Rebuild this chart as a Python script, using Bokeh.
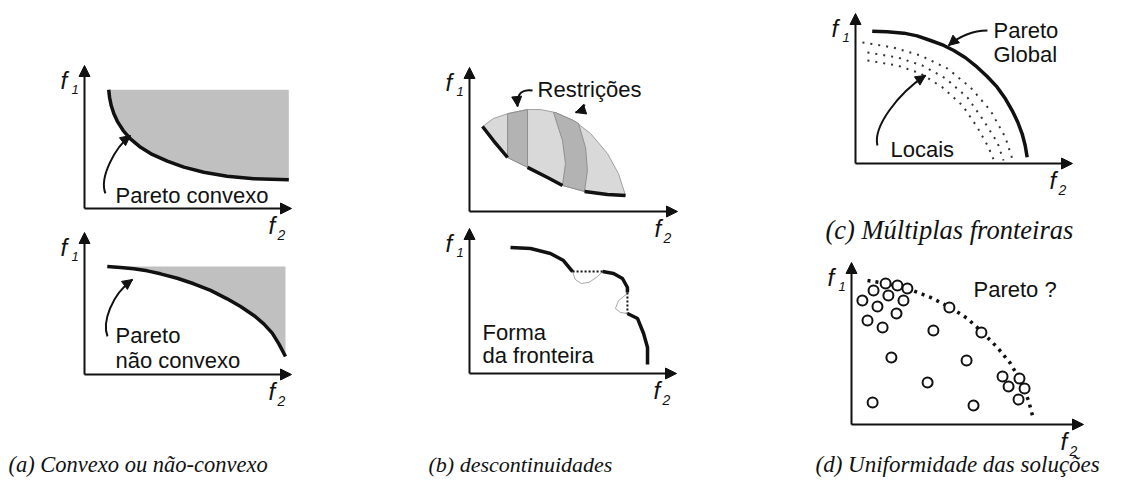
from bokeh.plotting import figure
from bokeh.models import Range1d, Arrow, NormalHead
from bokeh.core.properties import value
from bokeh.embed import file_html
from bokeh.resources import INLINE

W, H = 1107, 477
M = 0  # observed page offset of the plot frame
BL = 0.36  # observed downward shift of the alphabetic baseline, in em

# ---------------- data (panel units: 0..1 along each pair of axes) ----------------
# (a) top: convex Pareto front
A1_FRONT_U = [0.117, 0.121, 0.129, 0.142, 0.161, 0.187, 0.222, 0.271, 0.327, 0.400,
              0.480, 0.576, 0.689, 0.818, 0.987]
A1_FRONT_V = [0.830, 0.778, 0.720, 0.662, 0.604, 0.545, 0.487, 0.428, 0.378, 0.331,
              0.289, 0.254, 0.226, 0.208, 0.201]
# (a) bottom: non-convex Pareto front
A2_FRONT_U = [0.110, 0.174, 0.238, 0.303, 0.367, 0.448, 0.528, 0.609, 0.689, 0.754,
              0.818, 0.866, 0.907, 0.939, 0.971]
A2_FRONT_V = [0.761, 0.754, 0.744, 0.730, 0.709, 0.678, 0.639, 0.592, 0.533, 0.479,
              0.416, 0.357, 0.291, 0.216, 0.127]
# (b) top: feasible region with constraints
B1_TOP_U = [0.0625, 0.115, 0.1875, 0.279, 0.341, 0.413, 0.500, 0.582, 0.663, 0.716, 0.750]
B1_TOP_V = [0.590, 0.646, 0.681, 0.708, 0.708, 0.6875, 0.632, 0.542, 0.403, 0.264, 0.111]
B1_BOT_U = [0.0625, 0.115, 0.183, 0.279, 0.375, 0.447, 0.553, 0.663, 0.750]
B1_BOT_V = [0.590, 0.493, 0.375, 0.306, 0.236, 0.181, 0.139, 0.118, 0.111]
B1_BAND1_U = [0.183, 0.279, 0.279, 0.183]
B1_BAND1_V = [0.375, 0.306, 0.708, 0.679]
B1_BAND2_U = [0.404, 0.447, 0.4615, 0.447, 0.553, 0.567, 0.558, 0.524, 0.500, 0.413]
B1_BAND2_V = [0.6875, 0.493, 0.333, 0.181, 0.139, 0.285, 0.444, 0.611, 0.632, 0.6875]
# (b) bottom: discontinuous front
B2_S1_U = [0.198, 0.295, 0.391, 0.454, 0.498]
B2_S1_V = [0.869, 0.862, 0.828, 0.779, 0.703]
B2_S2_U = [0.643, 0.696, 0.739, 0.763, 0.763]
B2_S2_V = [0.703, 0.690, 0.655, 0.593, 0.559]
B2_S3_U = [0.763, 0.812, 0.841, 0.860, 0.860]
B2_S3_V = [0.414, 0.379, 0.276, 0.179, 0.062]
B2_LOOP1_U = [0.498, 0.510, 0.540, 0.580, 0.620, 0.643]
B2_LOOP1_V = [0.703, 0.650, 0.620, 0.630, 0.670, 0.703]
B2_LOOP2_U = [0.763, 0.720, 0.705, 0.729, 0.763]
B2_LOOP2_V = [0.552, 0.503, 0.448, 0.421, 0.414]
# (c) multiple fronts
C_GLOBAL_U = [0.077, 0.146, 0.223, 0.284, 0.346, 0.407, 0.453, 0.507, 0.561, 0.607,
              0.653, 0.691, 0.722, 0.748, 0.768, 0.782, 0.791]
C_GLOBAL_V = [0.882, 0.878, 0.869, 0.851, 0.820, 0.787, 0.753, 0.705, 0.642, 0.580,
              0.509, 0.431, 0.353, 0.275, 0.198, 0.120, 0.042]
C_LOCAL1_U = [0.032, 0.175, 0.300, 0.424, 0.530, 0.622, 0.691, 0.728]
C_LOCAL1_V = [0.807, 0.773, 0.720, 0.633, 0.507, 0.353, 0.173, 0.007]
C_LOCAL2_U = [0.055, 0.194, 0.309, 0.415, 0.516, 0.590, 0.654, 0.682]
C_LOCAL2_V = [0.740, 0.707, 0.653, 0.567, 0.440, 0.287, 0.140, 0.020]
C_LOCAL3_U = [0.055, 0.194, 0.300, 0.401, 0.493, 0.562, 0.613, 0.636]
C_LOCAL3_V = [0.687, 0.653, 0.600, 0.507, 0.387, 0.240, 0.107, 0.027]
# (d) solutions and estimated front
D_SOL_U = [0.147, 0.198, 0.241, 0.095, 0.159, 0.224, 0.047, 0.112, 0.194, 0.069, 0.134,
           0.422, 0.353, 0.560, 0.172, 0.496, 0.328, 0.651, 0.724, 0.677, 0.746, 0.720,
           0.091, 0.526]
D_SOL_V = [0.870, 0.858, 0.840, 0.827, 0.796, 0.765, 0.765, 0.728, 0.685, 0.642, 0.599,
           0.722, 0.580, 0.568, 0.414, 0.395, 0.259, 0.296, 0.284, 0.235, 0.222, 0.154,
           0.136, 0.117]
D_FRONT_U = [0.069, 0.155, 0.254, 0.341, 0.427, 0.500, 0.565, 0.629, 0.685, 0.728, 0.763, 0.780]
D_FRONT_V = [0.889, 0.870, 0.833, 0.784, 0.722, 0.654, 0.568, 0.475, 0.377, 0.272, 0.148, 0.056]

CAPTIONS = ["(a) Convexo ou não-convexo", "(b) descontinuidades",
            "(c) Múltiplas fronteiras", "(d) Uniformidade das soluções"]

# ---------------- figure ----------------
p = figure(width=W, height=H, output_backend="svg", toolbar_location=None,
           x_range=Range1d(M, M + W), y_range=Range1d(M + H, M),
           min_border=0, x_axis_location=None, y_axis_location=None,
           outline_line_color=None)
for g in p.grid:
    g.visible = False
p.background_fill_color = "white"
p.border_fill_color = "white"

INK = "#111111"
SANS = value("Liberation Sans")
SERIF = value("Liberation Serif")
xr, yr = {}, {}


def add_panel(name, ox, oy, xt, yt):
    """Map panel units (0..1) onto the pixel box given by origin and axis tips."""
    kx = xt - ox
    sx = -(ox - M) / kx
    xr[name] = Range1d(sx, sx + W / kx)
    ky = oy - yt
    sy = -(H - (oy - M)) / ky
    yr[name] = Range1d(sy, sy + H / ky)


add_panel("a1", 84, 208, 291, 65)
add_panel("a2", 84, 374, 291, 232)
add_panel("b1", 469, 211, 677, 67)
add_panel("b2", 469, 373, 676, 228)
add_panel("c", 855, 163, 1072, 13)
add_panel("d", 851, 424, 1083, 262)
p.extra_x_ranges = xr
p.extra_y_ranges = yr


def kw(n):
    return dict(x_range_name=n, y_range_name=n)


def fix(dy, fs):
    return dy - BL * fs


def axes(n):
    for xe, ye in ((1, 0), (0, 1)):
        p.add_layout(Arrow(x_start=0, y_start=0, x_end=xe, y_end=ye, line_width=2,
                           line_color=INK,
                           end=NormalHead(size=11, fill_color=INK, line_color=INK, line_width=1),
                           **kw(n)))
    p.text(x=[0, 0], y=[1, 1], text=["f", "1"], x_offset=[-24, -13],
           y_offset=[fix(24, 24), fix(29, 13)],
           text_font=SANS, text_font_style="italic", text_font_size=["24px", "13px"],
           text_color=INK, text_baseline="alphabetic", text_align="left", **kw(n))
    p.text(x=[1, 1], y=[0, 0], text=["f", "2"], x_offset=[-23, -14],
           y_offset=[fix(26, 24), fix(32, 14)],
           text_font=SANS, text_font_style="italic", text_font_size=["24px", "14px"],
           text_color=INK, text_baseline="alphabetic", text_align="left", **kw(n))


def curved_arrow(n, x0, y0, cx0, cy0, cx1, cy1, x1, y1):
    p.bezier(x0=[x0], y0=[y0], x1=[x1], y1=[y1], cx0=[cx0], cy0=[cy0], cx1=[cx1], cy1=[cy1],
             line_width=2, line_color=INK, **kw(n))
    e = 0.02
    p.add_layout(Arrow(x_start=x1 - e * (x1 - cx1), y_start=y1 - e * (y1 - cy1),
                       x_end=x1, y_end=y1, line_alpha=0,
                       end=NormalHead(size=10, fill_color=INK, line_color=INK, line_width=1),
                       **kw(n)))


def label(n, xs, ys, texts):
    p.text(x=xs, y=ys, text=texts, text_font=SANS, text_font_size="22px", text_color=INK,
           y_offset=fix(0, 22),
           text_baseline="alphabetic", text_align="left", **kw(n))


# ---- (a) top
p.patch(A1_FRONT_U + [A1_FRONT_U[-1]], A1_FRONT_V + [A1_FRONT_V[0]],
        fill_color="#c0c0c0", line_color=None, **kw("a1"))
p.line(A1_FRONT_U, A1_FRONT_V, line_width=3.5, line_color=INK, line_join="round", **kw("a1"))
axes("a1")
curved_arrow("a1", 0.101, 0.105, 0.07, 0.22, 0.15, 0.43, 0.222, 0.51)
label("a1", [0.150], [0.035], ["Pareto convexo"])

# ---- (a) bottom
p.patch(A2_FRONT_U + [A2_FRONT_U[-1]], A2_FRONT_V + [A2_FRONT_V[0]],
        fill_color="#c0c0c0", line_color=None, **kw("a2"))
p.line(A2_FRONT_U, A2_FRONT_V, line_width=3.5, line_color=INK, line_join="round", **kw("a2"))
axes("a2")
curved_arrow("a2", 0.111, 0.268, 0.085, 0.37, 0.13, 0.56, 0.232, 0.669)
label("a2", [0.150, 0.150], [0.218, 0.042], ["Pareto", "não convexo"])

# ---- (b) top
p.patch(B1_TOP_U + B1_BOT_U[::-1], B1_TOP_V + B1_BOT_V[::-1],
        fill_color="#d9d9d9", line_color="#a0a0a0", line_width=1, **kw("b1"))
p.patch(B1_BAND1_U, B1_BAND1_V, fill_color="#b3b3b3", line_color="#8f8f8f", line_width=1, **kw("b1"))
p.patch(B1_BAND2_U, B1_BAND2_V, fill_color="#b3b3b3", line_color="#8f8f8f", line_width=1, **kw("b1"))
for i0, i1 in ((0, 3), (3, 6), (6, 9)):
    p.line(B1_BOT_U[i0:i1], B1_BOT_V[i0:i1], line_width=3.5, line_color=INK,
           line_join="round", **kw("b1"))
axes("b1")
curved_arrow("b1", 0.303, 0.840, 0.26, 0.85, 0.225, 0.83, 0.231, 0.729)
curved_arrow("b1", 0.553, 0.743, 0.548, 0.72, 0.535, 0.70, 0.510, 0.6875)
label("b1", [0.327], [0.792], ["Restrições"])

# ---- (b) bottom
p.line(B2_LOOP1_U, B2_LOOP1_V, line_width=1, line_color="#a8a8a8", **kw("b2"))
p.line(B2_LOOP2_U, B2_LOOP2_V, line_width=1, line_color="#a8a8a8", **kw("b2"))
p.line([B2_S1_U[-1], B2_S2_U[0]], [B2_S1_V[-1], B2_S2_V[0]], line_width=2,
       line_dash="2 2", line_color=INK, **kw("b2"))
p.line([B2_S2_U[-1], B2_S3_U[0]], [B2_S2_V[-1], B2_S3_V[0]], line_width=2,
       line_dash="2 2", line_color=INK, **kw("b2"))
for su, sv in ((B2_S1_U, B2_S1_V), (B2_S2_U, B2_S2_V), (B2_S3_U, B2_S3_V)):
    p.line(su, sv, line_width=3.5, line_color=INK, line_join="round", **kw("b2"))
axes("b2")
label("b2", [0.063, 0.063], [0.228, 0.069], ["Forma", "da fronteira"])

# ---- (c)
for lu, lv in ((C_LOCAL1_U, C_LOCAL1_V), (C_LOCAL2_U, C_LOCAL2_V), (C_LOCAL3_U, C_LOCAL3_V)):
    p.line(lu, lv, line_width=2, line_dash="2 6", line_color="#333333", **kw("c"))
p.line(C_GLOBAL_U, C_GLOBAL_V, line_width=3.5, line_color=INK, line_join="round", **kw("c"))
axes("c")
curved_arrow("c", 0.608, 0.887, 0.54, 0.885, 0.48, 0.85, 0.429, 0.787)
curved_arrow("c", 0.101, 0.12, 0.08, 0.25, 0.20, 0.47, 0.323, 0.587)
label("c", [0.636, 0.636], [0.833, 0.673], ["Pareto", "Global"])
label("c", [0.161], [0.040], ["Locais"])

# ---- (d)
p.line(D_FRONT_U, D_FRONT_V, line_width=3.5, line_dash="3 5", line_color=INK, **kw("d"))
p.scatter(D_SOL_U, D_SOL_V, size=10, marker="circle", fill_color="white",
          line_color=INK, line_width=2, **kw("d"))
axes("d")
label("d", [0.526], [0.784], ["Pareto ?"])

# ---- captions (page pixel coordinates)
CAP_FS = [22.5, 22, 26.5, 23]
p.text(x=[8, 428, 825, 815], y=[472, 472, 239, 472], text=CAPTIONS,
       y_offset=[fix(0, f) for f in CAP_FS],
       text_font=SERIF, text_font_style="italic",
       text_font_size=[f"{f}px" for f in CAP_FS],
       text_color=INK, text_baseline="alphabetic", text_align="left")

open("out.html", "w").write(file_html(p, INLINE))
